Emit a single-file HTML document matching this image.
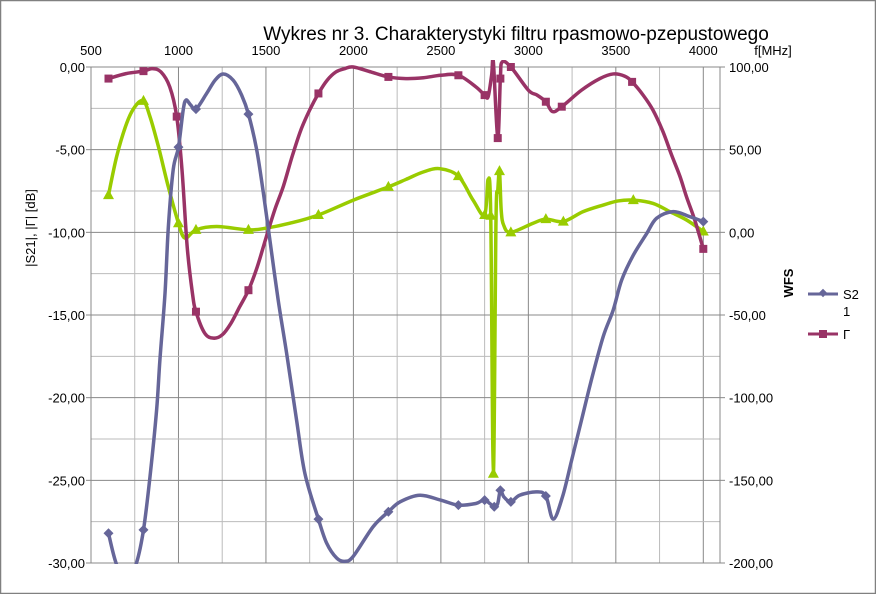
<!DOCTYPE html>
<html><head><meta charset="utf-8"><style>
html,body{margin:0;padding:0;background:#fff;}
svg text{font-family:"Liberation Sans","DejaVu Sans",sans-serif;}
</style></head><body>
<svg id="chart" width="876" height="594" viewBox="0 0 876 594" xmlns="http://www.w3.org/2000/svg">
<rect x="0.5" y="0.5" width="875" height="593" fill="#fff" stroke="#808080" stroke-width="1.5"/>
<text x="516" y="40" font-size="19" text-anchor="middle" fill="#000">Wykres nr 3. Charakterystyki filtru rpasmowo-pzepustowego</text>
<text x="773" y="55" font-size="13" text-anchor="middle" fill="#000">f[MHz]</text>
<text transform="translate(35,228) rotate(-90)" font-size="13" text-anchor="middle" fill="#000">|S21|, |Γ| [dB]</text>
<text transform="translate(793,283) rotate(-90)" font-size="13" font-weight="bold" text-anchor="middle" fill="#000">WFS</text>
<g id="grid"></g>
<g id="axes"></g>
<g id="series" clip-path="url(#plotclip)"></g>
<defs><clipPath id="plotclip"><rect x="91" y="60" width="629" height="504"/></clipPath></defs>
<g id="legend">
<line x1="808" y1="294" x2="838" y2="294" stroke="#666699" stroke-width="3"/>
<rect x="820" y="290" width="6" height="6" fill="#666699" transform="rotate(45 823 293)"/>
<text x="843" y="299" font-size="13">S2</text><text x="843" y="316" font-size="13">1</text>
<line x1="808" y1="334" x2="838" y2="334" stroke="#993366" stroke-width="3"/>
<rect x="819" y="330" width="8" height="8" fill="#993366"/>
<text x="843" y="339" font-size="13">Γ</text>
</g>
</svg>
<script>
const fS21 = [600,640,700,760,800,837,875,894,923,942,970,1000,1027,1043,1070,1100,1161,1209,1256,1313,1361,1400,1447,1485,1523,1570,1618,1675,1723,1800,1847,1904,1950,1999,2113,2200,2267,2380,2500,2600,2700,2750,2805,2825,2840,2860,2900,2950,3047,3100,3142,3195,3247,3304,3361,3428,3485,3533,3599,3675,3733,3828,3923,4000];
const vS21 = [-28.2,-29.9,-31.5,-30,-28.0,-24.8,-20.75,-17.7,-13.7,-9.7,-6.2,-4.85,-2.6,-2.0,-2.3,-2.55,-1.6,-0.8,-0.42,-0.8,-1.7,-2.85,-5.0,-7.6,-10.5,-14.1,-17.3,-21.35,-24.6,-27.35,-28.8,-29.7,-29.9,-29.6,-27.8,-26.9,-26.3,-25.9,-26.2,-26.5,-26.4,-26.2,-26.6,-26.4,-25.6,-26.0,-26.3,-25.9,-25.7,-25.95,-27.35,-26.0,-23.8,-21.35,-18.9,-16.3,-14.7,-12.9,-11.4,-10.1,-9.15,-8.75,-9.05,-9.35];
const fG = [600,700,800,850,900,950,990,1020,1050,1080,1100,1150,1200,1250,1300,1350,1400,1450,1500,1550,1600,1650,1700,1750,1800,1850,1900,1950,2000,2100,2200,2300,2400,2500,2600,2700,2750,2770,2790,2800,2825,2840,2850,2900,3000,3050,3100,3138,3191,3304,3409,3485,3550,3593,3656,3712,3769,3818,3866,3904,3951,4000];
const vG = [-0.7,-0.4,-0.25,-0.1,-0.3,-1.2,-3.0,-6.2,-10.9,-13.7,-14.8,-16.1,-16.4,-16.2,-15.5,-14.5,-13.5,-12.1,-10.35,-8.65,-7.2,-5.4,-3.8,-2.6,-1.6,-0.8,-0.3,-0.1,0,-0.3,-0.6,-0.7,-0.65,-0.5,-0.5,-1.2,-1.7,-1.8,-0.5,0.3,-4.3,-0.7,0.3,0,-1.4,-1.7,-2.1,-2.7,-2.4,-1.4,-0.7,-0.42,-0.55,-0.9,-1.7,-2.6,-3.9,-5.3,-6.6,-7.85,-9.25,-11.0];
const fW = [600,647,704,751,800,837,885,942,1000,1037,1100,1218,1400,1500,1637,1800,2000,2200,2300,2399,2494,2600,2684,2750,2770,2785,2800,2815,2825,2835,2845,2860,2900,3027,3100,3200,3313,3428,3513,3600,3713,3809,3904,4000];
const vW = [-7.75,-5.4,-3.4,-2.4,-2.05,-3.0,-4.8,-7.25,-9.45,-10.35,-9.85,-9.65,-9.85,-9.75,-9.45,-8.95,-8.05,-7.25,-6.8,-6.35,-6.15,-6.6,-8.05,-8.95,-6.8,-9.0,-24.6,-9.3,-7.5,-6.3,-8.7,-9.6,-10.0,-9.45,-9.2,-9.35,-8.75,-8.35,-8.1,-8.05,-8.25,-8.75,-9.25,-9.95];
const markS21 = [600,800,1000,1100,1400,1800,2200,2600,2750,2805,2840,2900,3100,3200,3600,4000];
const markG = [600,800,990,1100,1400,1800,2200,2600,2750,2825,2840,2900,3100,3191,3593,4000];
const markW = [600,800,1000,1050,1100,1400,1800,2200,2600,2750,2785,2800,2835,2900,3100,3200,3600,4000];
const xTicks = [500,1000,1500,2000,2500,3000,3500,4000];
const yTicksL = ["0,00","-5,00","-10,00","-15,00","-20,00","-25,00","-30,00"];
const yTicksR = ["100,00","50,00","0,00","-50,00","-100,00","-150,00","-200,00"];

const NS="http://www.w3.org/2000/svg";
const X0=91, X1=720, Y0=67, Y1=563;
function xs(f){return X0+(f-500)*(703.3-91)/3500;}
function ys(v){return Y0-(v)*(Y1-Y0)/30;}
function mk(t,a,parent){const e=document.createElementNS(NS,t);for(const k in a)e.setAttribute(k,a[k]);parent.appendChild(e);return e;}
const grid=document.getElementById('grid'), axes=document.getElementById('axes'), ser=document.getElementById('series');
for(let f=500;f<=4000;f+=250){
  const l=mk('line',{x1:xs(f),x2:xs(f),y1:Y0,y2:Y1,stroke:f%500===0?'#888':'#bbb','stroke-width':1},grid);
  
  
}
for(let v=0;v>=-30;v-=2.5){
  const l=mk('line',{x1:X0,x2:X1,y1:ys(v),y2:ys(v),stroke:v%5===0?'#888':'#bbb','stroke-width':1},grid);
  
  
}
mk('line',{x1:X0,x2:X0,y1:Y0,y2:Y1,stroke:'#888'},axes);
mk('line',{x1:X1,x2:X1,y1:Y0,y2:Y1,stroke:'#888'},axes);
xTicks.forEach(f=>{
  const t=mk('text',{x:xs(f),y:55,'font-size':13,'text-anchor':'middle'},axes);
  t.textContent=f;
  
  
});
yTicksL.forEach((s,i)=>{
  const y=ys(-5*i);
  mk('line',{x1:X0-5,x2:X0,y1:y,y2:y,stroke:'#888'},axes);
  const t=mk('text',{x:85,y:y+5,'font-size':13,'text-anchor':'end'},axes);
  t.textContent=s;
  
  
});
yTicksR.forEach((s,i)=>{
  const y=ys(-5*i);
  mk('line',{x1:X1,x2:X1+5,y1:y,y2:y,stroke:'#888'},axes);
  const t=mk('text',{x:729,y:y+5,'font-size':13,'text-anchor':'start'},axes);
  t.textContent=s;
  
  
});
function smooth(fs,vs){
  const p=fs.map((f,i)=>[xs(f),ys(vs[i])]);
  let d='M'+p[0][0]+','+p[0][1];
  for(let i=0;i<p.length-1;i++){
    const a=p[i-1]||p[i],b=p[i],c=p[i+1],e=p[i+2]||c;
    const k=1/6;
    d+=' C'+(b[0]+(c[0]-a[0])*k)+','+(b[1]+(c[1]-a[1])*k)+' '+(c[0]-(e[0]-b[0])*k)+','+(c[1]-(e[1]-b[1])*k)+' '+c[0]+','+c[1];
  }
  return d;
}
function drawSeries(name,fs,vs,marks,color,shape){
  const g=mk('g',{},ser);
  
  
  mk('path',{d:smooth(fs,vs),fill:'none',stroke:color,'stroke-width':3.5,'stroke-linejoin':'round'},g);
  marks.forEach(f=>{
    const i=fs.indexOf(f); if(i<0)return;
    const x=xs(f),y=ys(vs[i]);
    let m;
    if(shape==='d') m=mk('polygon',{points:`${x},${y-5} ${x+5},${y} ${x},${y+5} ${x-5},${y}`,fill:color},g);
    else if(shape==='s') m=mk('rect',{x:x-4,y:y-4,width:8,height:8,fill:color},g);
    else m=mk('polygon',{points:`${x},${y-6} ${x+5.5},${y+4} ${x-5.5},${y+4}`,fill:color},g);
    
    
  });
}
drawSeries('series-wfs',fW,vW,markW,'#99cc00','t');
drawSeries('series-gamma',fG,vG,markG,'#993366','s');
drawSeries('series-s21',fS21,vS21,markS21,'#666699','d');
</script>
</body></html>
